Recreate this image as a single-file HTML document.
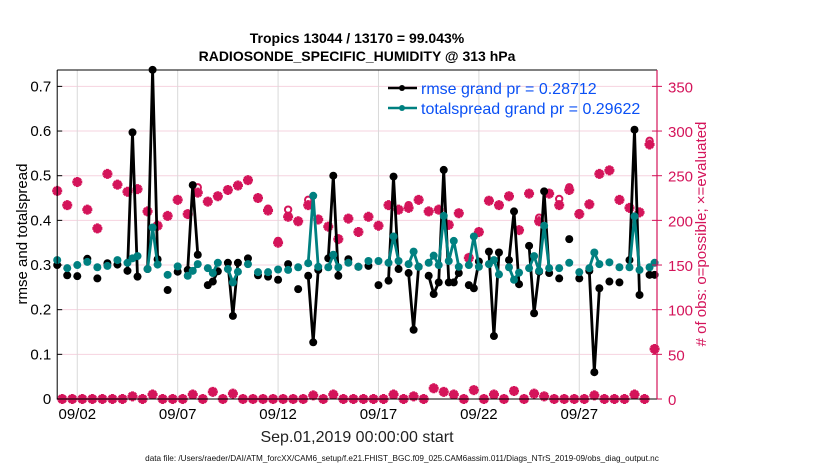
<!DOCTYPE html>
<html><head><meta charset="utf-8">
<style>
body{margin:0;background:#fff;}
svg{display:block;font-family:"Liberation Sans",sans-serif;}
</style></head>
<body>
<svg id="chart" width="830" height="470" xmlns="http://www.w3.org/2000/svg">
<rect width="830" height="470" fill="#fff"/>
<g id="grid"></g>
<g id="counts"></g>
<g id="series"></g>
<g id="axes"></g>
<text x="357" y="43" text-anchor="middle" font-size="14" font-weight="bold">Tropics 13044 / 13170 = 99.043%</text>
<text x="357" y="61" text-anchor="middle" font-size="14" font-weight="bold">RADIOSONDE_SPECIFIC_HUMIDITY @ 313 hPa</text>
<text transform="translate(27,234) rotate(-90)" text-anchor="middle" font-size="15">rmse and totalspread</text>
<text transform="translate(706,234) rotate(-90)" text-anchor="middle" font-size="15" fill="#d4145a"># of obs: o=possible; ×=evaluated</text>
<text x="357" y="442" text-anchor="middle" font-size="16" fill="#222">Sep.01,2019 00:00:00 start</text>
<text x="402" y="461" text-anchor="middle" font-size="8.2" fill="#111">data file: /Users/raeder/DAI/ATM_forcXX/CAM6_setup/f.e21.FHIST_BGC.f09_025.CAM6assim.011/Diags_NTrS_2019-09/obs_diag_output.nc</text>
<g>
<line x1="388" y1="88" x2="417" y2="88" stroke="#000" stroke-width="2.5"/>
<circle cx="402" cy="88" r="3" fill="#000"/>
<text x="421" y="94" font-size="16" fill="#0a50f5">rmse grand pr = 0.28712</text>
<line x1="388" y1="108" x2="417" y2="108" stroke="#008080" stroke-width="2.5"/>
<circle cx="402" cy="108" r="3" fill="#008080"/>
<text x="421" y="114" font-size="16" fill="#0a50f5">totalspread grand pr = 0.29622</text>
</g>
</svg>
<script>
const rmse=[.300,null,.277,null,.275,null,.314,null,.270,null,
 .304,null,.301,null,.287,.597,.274,null,.291,.737,
 .313,null,.244,null,.285,null,.289,.479,.323,null,
 .255,.263,.286,null,.305,.186,.305,null,.315,null,
 .277,null,.274,null,.267,null,.302,null,.246,null,
 .276,.127,.289,null,.315,.500,.276,null,.313,null,
 .296,null,.298,null,.255,null,.265,.498,.291,null,
 .282,.155,.296,null,.276,.235,.261,.513,.261,.261,
 .282,null,.255,.248,.308,null,.330,.141,.328,null,
 .311,.420,.257,null,.343,.192,.285,.465,.282,null,
 .270,null,.358,null,.270,null,.287,.060,.248,null,
 .263,null,.261,null,.311,.603,.233,null,.278,.278];
const spread=[.311,null,.293,null,.300,null,.307,null,.295,null,
 .298,null,.311,null,.305,.315,.320,null,.291,.384,
 .301,null,.278,null,.297,null,.276,.287,.302,null,
 .293,.282,.305,null,.291,.261,.285,null,.302,null,
 .284,null,.284,null,.290,null,.289,null,.295,null,
 .304,.455,.296,null,.295,.323,.295,null,.305,null,
 .296,null,.309,null,.309,null,.305,.364,.309,null,
 .302,.330,.296,null,.305,.321,.300,.410,.309,.354,
 .296,null,.300,.364,.296,null,.302,.311,.279,null,
 .295,.267,.283,null,.293,.320,.287,.388,.293,null,
 .293,null,.305,null,.284,null,.293,.328,.302,null,
 .306,null,.295,null,.295,.409,.289,null,.295,.305];
const evaluated=[233,0,217,0,243,0,212,0,191,0,
 252,0,240,0,232,3,235,0,210,5,
 194,0,205,0,223,0,207,5,231,0,
 221,8,227,0,234,6,239,0,245,0,
 225,0,211,0,175,0,204,0,199,0,
 217,4,201,0,193,5,179,0,202,0,
 187,0,204,0,194,0,217,5,212,0,
 214,3,223,0,210,12,212,8,195,5,
 208,0,158,10,187,0,222,5,217,0,
 227,9,189,0,230,6,199,3,230,0,
 217,0,234,0,207,0,218,4,252,0,
 256,0,223,0,214,5,209,0,285,56];
const possible=[233,0,217,0,243,0,212,0,191,0,
 252,0,240,0,232,3,235,0,210,5,
 194,0,205,0,223,0,207,5,237,0,
 221,8,227,0,234,6,239,0,245,0,
 225,0,213,0,177,0,212,0,199,0,
 223,4,201,0,193,5,179,0,202,0,
 187,0,204,0,194,0,217,5,212,0,
 217,3,223,0,210,12,212,8,195,5,
 208,0,158,10,187,0,222,5,217,0,
 227,9,189,0,230,6,203,3,230,0,
 224,0,237,0,208,0,218,4,252,0,
 256,0,223,0,214,5,209,0,289,56];
const xTickDays=[1,6,11,16,21,26];
const xTickLabels=["09/02","09/07","09/12","09/17","09/22","09/27"];
const yTicks=[0,0.1,0.2,0.3,0.4,0.5,0.6,0.7];
const yTickLabels=["0","0.1","0.2","0.3","0.4","0.5","0.6","0.7"];
const rTicks=[0,50,100,150,200,250,300,350];

const NS="http://www.w3.org/2000/svg";
const L=57.2,R=657,T=70,B=399;
const xDay=d=>L+20.08*d;
const xi=i=>xDay(i/4);
const yL=v=>B-v*446.6;
const yR=c=>B-c*0.8932;
const PINK="#d4145a";
function mk(tag,attrs,parent){const e=document.createElementNS(NS,tag);for(const k in attrs)e.setAttribute(k,attrs[k]);parent.appendChild(e);return e;}
const grid=document.getElementById('grid'),axes=document.getElementById('axes'),cg=document.getElementById('counts'),sg=document.getElementById('series');

yTicks.forEach((v,k)=>{
  const g=mk('line',{x1:L,x2:R,y1:yL(v),y2:yL(v),stroke:'#f6d3df','stroke-width':1},grid);
  
  
  const t=mk('text',{x:L-6,y:yL(v)+5,'text-anchor':'end','font-size':15},axes);
  t.textContent=yTickLabels[k];
  
  
  const tk=mk('line',{x1:L,x2:L+5,y1:yL(v),y2:yL(v),stroke:'#000'},axes);
  
  
});
rTicks.forEach(c=>{
  const t=mk('text',{x:R+11,y:yR(c)+6,'font-size':15,fill:PINK},axes);
  t.textContent=String(c);
  
  
  const tk=mk('line',{x1:R-5,x2:R+5,y1:yR(c),y2:yR(c),stroke:PINK},axes);
  
  
});
xTickDays.forEach((d,k)=>{
  const g=mk('line',{x1:xDay(d),x2:xDay(d),y1:T,y2:B,stroke:'#d9d9d9','stroke-width':1},grid);
  
  
  const t=mk('text',{x:xDay(d),y:419,'text-anchor':'middle','font-size':15},axes);
  t.textContent=xTickLabels[k];
  
  
});
const ax1=mk('path',{d:`M${L},${T}V${B}H${R}M${L},${T}H${R}`,fill:'none',stroke:'#000','stroke-width':1},axes);


const ax2=mk('line',{x1:R,x2:R,y1:T,y2:B,stroke:PINK,'stroke-width':1.2},axes);



possible.forEach((c,i)=>{
  const o=mk('circle',{cx:xi(i),cy:yR(c),r:3.2,fill:'none',stroke:PINK,'stroke-width':2},cg);
  
  
});
evaluated.forEach((c,i)=>{
  const x=xi(i),y=yR(c),r=5;
  const p=mk('path',{d:`M${x-r},${y}H${x+r}M${x},${y-r}V${y+r}M${x-3.5},${y-3.5}L${x+3.5},${y+3.5}M${x-3.5},${y+3.5}L${x+3.5},${y-3.5}`,stroke:PINK,'stroke-width':3,fill:'none'},cg);
  
  
});

function drawSeries(arr,color,name){
  let d='';
  for(let i=0;i<arr.length;i++){
    if(arr[i]==null)continue;
    const prev=i>0&&arr[i-1]!=null;
    d+=(prev?'L':'M')+xi(i).toFixed(1)+','+yL(arr[i]).toFixed(1);
  }
  const p=mk('path',{d:d,fill:'none',stroke:color,'stroke-width':2.8,'stroke-linejoin':'round'},sg);
  
  
  arr.forEach((v,i)=>{
    if(v==null)return;
    const c=mk('circle',{cx:xi(i),cy:yL(v),r:4,fill:color},sg);
    
    
  });
}
drawSeries(rmse,'#000','rmse');
drawSeries(spread,'#008080','totalspread');
</script>
</body></html>
